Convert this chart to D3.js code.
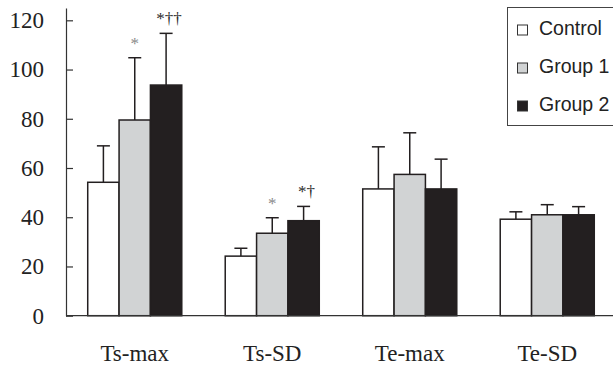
<!DOCTYPE html>
<meta charset="utf-8">
<style>
body { margin: 0; background: #fff; }
svg { display: block; }
.cat { font-family: "Liberation Serif", "Times New Roman", serif; font-size: 23px; fill: #222; }
.legend text { font-family: "Liberation Sans", Arial, sans-serif; font-size: 19.5px; fill: #222; }
.note { font-family: "Liberation Serif", "Times New Roman", serif; font-size: 17px; }
</style>
<body>
<script src="https://cdn.jsdelivr.net/npm/d3@7"></script>
<script>
'use strict';

const categories = ["Ts-max", "Ts-SD", "Te-max", "Te-SD"],
      series = ["Control", "Group 1", "Group 2"],
      fills = ["#ffffff", "#d1d3d4", "#231f20"];

// mean values, one array per group
const controlMean = [54.2, 24.2, 51.5, 39.2],
      group1Mean  = [79.5, 33.5, 57.4, 41.0],
      group2Mean  = [93.7, 38.6, 51.5, 41.0];

// upper end of the error bars
const controlErr = [69.0, 27.4, 68.6, 42.2],
      group1Err  = [104.8, 39.8, 74.3, 45.1],
      group2Err  = [114.7, 44.4, 63.6, 44.3];

const yTicks = [0, 20, 40, 60, 80, 100, 120];

// significance marks: [category, series, text, gray]
const notes = [
  ["Ts-max", "Group 1", "*", true],
  ["Ts-max", "Group 2", "*\u2020\u2020", false],
  ["Ts-SD", "Group 1", "*", true],
  ["Ts-SD", "Group 2", "*\u2020", false]
];

const width = 613, height = 369;
const means = [controlMean, group1Mean, group2Mean],
      errs = [controlErr, group1Err, group2Err];

const rows = [];
categories.forEach((c, i) => {
  series.forEach((s, j) => {
    rows.push({cat: c, ser: s, value: means[j][i], top: errs[j][i], fill: fills[j]});
  });
});

const svg = d3.select("body").append("svg")
    .attr("width", width)
    .attr("height", height);

const y = d3.scaleLinear().domain([0, 125]).range([315.7, 8]);

const x0 = d3.scaleBand()
    .domain(categories)
    .range([66, 616])
    .paddingInner(0.316)
    .paddingOuter(0.158);

const x1 = d3.scaleBand()
    .domain(series)
    .range([0, x0.bandwidth()]);

// error bars drawn first so the bar outline covers the base of the line
const eb = svg.append("g").selectAll("g")
    .data(rows)
  .enter().append("g")
    .attr("transform", d => "translate(" + (x0(d.cat) + x1(d.ser) + x1.bandwidth() / 2) + ",0)");

eb.append("line")
    .attr("y1", d => y(d.value))
    .attr("y2", d => y(d.top))
    .attr("stroke", "#231f20")
    .attr("stroke-width", 1.5);

eb.append("line")
    .attr("x1", -6.5).attr("x2", 6.5)
    .attr("y1", d => y(d.top))
    .attr("y2", d => y(d.top))
    .attr("stroke", "#231f20")
    .attr("stroke-width", 1.5);

svg.append("g").selectAll("rect")
    .data(rows)
  .enter().append("rect")
    .attr("x", d => x0(d.cat) + x1(d.ser))
    .attr("y", d => y(d.value))
    .attr("width", x1.bandwidth())
    .attr("height", d => y(0) - y(d.value))
    .attr("fill", d => d.fill)
    .attr("stroke", "#231f20")
    .attr("stroke-width", 1.5);

// y axis, ticks pointing into the plot
const yAxis = svg.append("g")
    .attr("transform", "translate(66,0)")
    .call(d3.axisLeft(y).tickValues(yTicks).tickSize(-7).tickSizeOuter(0).tickPadding(22));
yAxis.selectAll("text")
    .style("font-family", "'Liberation Serif', 'Times New Roman', serif")
    .style("font-size", "23px")
    .style("fill", "#222");
yAxis.selectAll("line").attr("stroke", "#333").attr("stroke-width", 1.2);
yAxis.select(".domain").attr("stroke", "#333").attr("stroke-width", 1.2);

// baseline
svg.append("line")
    .attr("x1", 66).attr("x2", width)
    .attr("y1", y(0)).attr("y2", y(0))
    .attr("stroke", "#333")
    .attr("stroke-width", 1.3);

svg.append("g").selectAll("text")
    .data(categories)
  .enter().append("text")
    .attr("class", "cat")
    .attr("x", d => x0(d) + x0.bandwidth() / 2)
    .attr("y", 361)
    .attr("text-anchor", "middle")
    .text(d => d);

// significance marks
svg.append("g").selectAll("text")
    .data(notes)
  .enter().append("text")
    .attr("class", "note")
    .attr("x", d => x0(d[0]) + x1(d[1]) + x1.bandwidth() / 2 + (d[2].length > 1 ? 3 : 0))
    .attr("y", d => {
      const r = rows.find(o => o.cat === d[0] && o.ser === d[1]);
      return y(r.top) - 9;
    })
    .attr("text-anchor", "middle")
    .attr("fill", d => d[3] ? "#8a8a8a" : "#2a2a2a")
    .text(d => d[2]);

// legend
const legend = svg.append("g").attr("class", "legend");
legend.append("rect")
    .attr("x", 507.5).attr("y", 7.5)
    .attr("width", 120).attr("height", 118)
    .attr("fill", "#fff")
    .attr("stroke", "#444")
    .attr("stroke-width", 1);

const li = legend.selectAll("g.item")
    .data(series)
  .enter().append("g")
    .attr("class", "item")
    .attr("transform", (d, i) => "translate(0," + (35 + i * 38) + ")");

li.append("rect")
    .attr("x", 517.5).attr("y", -10)
    .attr("width", 10).attr("height", 10)
    .attr("fill", (d, i) => fills[i])
    .attr("stroke", "#333")
    .attr("stroke-width", 1);

li.append("text")
    .attr("x", 539)
    .attr("y", 0)
    .text(d => d);
</script>
</body>
